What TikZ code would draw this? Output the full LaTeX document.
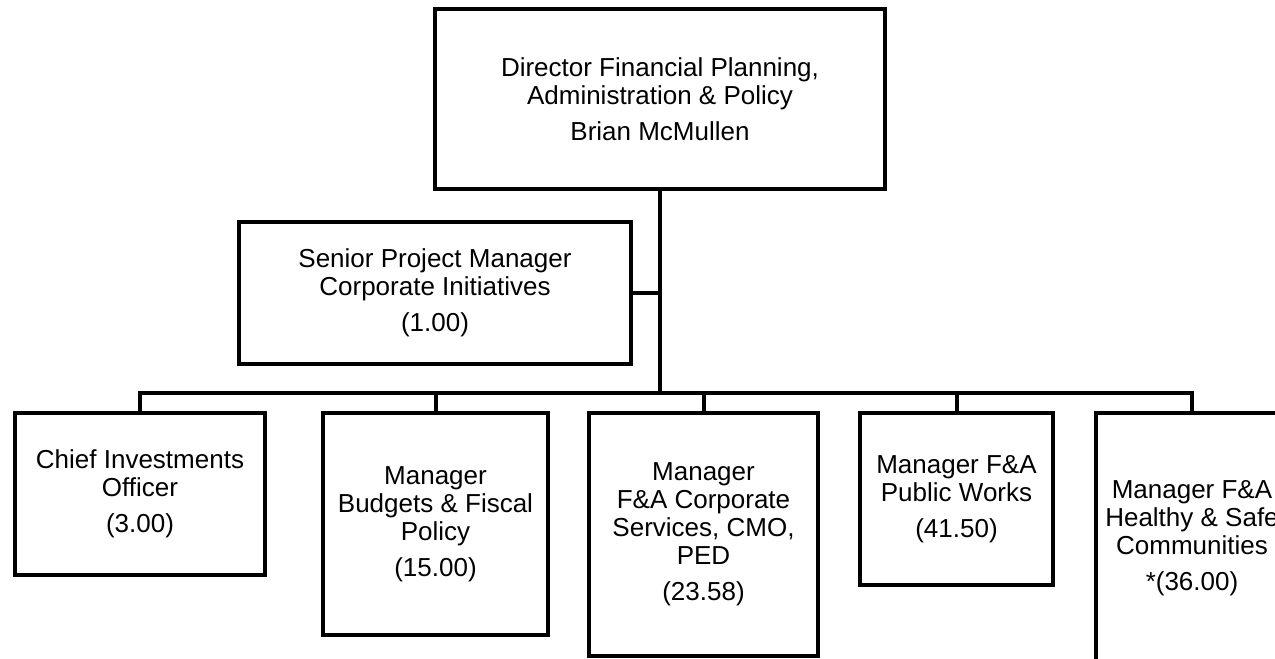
\documentclass[tikz,border=0pt]{standalone}
\usepackage{fontspec}
\setmainfont{Liberation Sans}
\usetikzlibrary{positioning}

\begin{document}
\begin{tikzpicture}[x=0.02cm, y=-0.02cm,
  box/.style={draw, line width=0.08cm, align=center, inner sep=0pt,
              font=\fontsize{14.8}{16}\selectfont},
  link/.style={line width=0.08cm}]
  \useasboundingbox (0,0) rectangle (1275,659);
  \clip (0,0) rectangle (1275,659);
  \node[box, minimum width=9cm, minimum height=3.6cm] (dir) at (660,99)
    {Director Financial Planning,\\Administration \& Policy\\[4.5pt]Brian McMullen};
  \node[box, minimum width=7.84cm, minimum height=2.84cm] (senior) at (435,293)
    {Senior Project Manager\\Corporate Initiatives\\[4.5pt](1.00)};
  \node[box, minimum width=5cm, minimum height=3.24cm] (chief) at (140,494)
    {Chief Investments\\Officer\\[4.5pt](3.00)};
  \node[box, minimum width=4.5cm, minimum height=4.44cm] (budgets) at (435.5,524)
    {Manager\\Budgets \& Fiscal\\Policy\\[4.5pt](15.00)};
  \node[box, minimum width=4.58cm, minimum height=4.86cm] (corp) at (703.5,534.5)
    {Manager\\F\&A Corporate\\Services, CMO,\\PED\\[4.5pt](23.58)};
  \node[box, minimum width=3.86cm, minimum height=3.44cm] (works) at (956.5,499)
    {Manager F\&A\\Public Works\\[4.5pt](41.50)};
  \node[box, minimum width=3.84cm, minimum height=5cm] (safe) at (1192,538)
    {Manager F\&A\\Healthy \& Safe\\Communities\\[4.5pt]*(36.00)};
  \coordinate (bus) at (660,393);
  \draw[link] (dir.south) -- (bus);
  \draw[link] (senior.east) -- (senior.east -| dir.south);
  \draw[link] (chief.north) |- (bus) -| (safe.north);
  \foreach \n in {budgets,corp,works}
    \draw[link] (\n.north) -- (\n.north |- bus);
\end{tikzpicture}
\end{document}
